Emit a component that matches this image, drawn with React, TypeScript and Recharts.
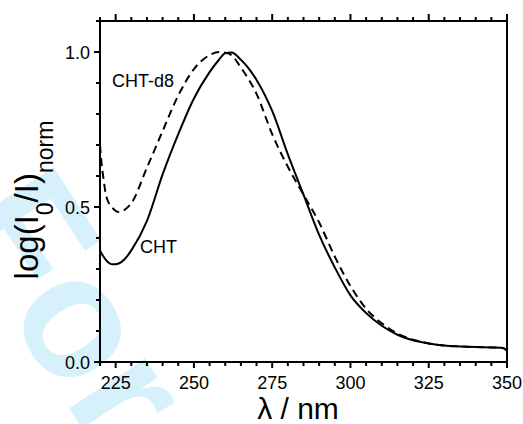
import React from "react";
import { LineChart, Line, XAxis, YAxis } from "recharts";

// wavelength grid (nm) and normalized absorbance
const wavelengths = [220, 220.5, 221, 222, 224, 226, 228, 230, 235, 240, 245, 250, 255, 258, 260, 262, 265, 270, 275, 280, 285, 290, 295, 300, 305, 310, 315, 320, 325, 330, 335, 340, 345, 348, 349, 350];
const chtValues = [0.36, 0.35, 0.342, 0.328, 0.315, 0.318, 0.333, 0.36, 0.455, 0.605, 0.735, 0.85, 0.935, 0.975, 0.996, 0.998, 0.975, 0.91, 0.81, 0.67, 0.54, 0.41, 0.305, 0.215, 0.158, 0.117, 0.088, 0.07, 0.06, 0.053, 0.05, 0.048, 0.047, 0.046, 0.044, 0.036];
const chtD8Values = [0.7, 0.64, 0.6, 0.535, 0.497, 0.484, 0.492, 0.512, 0.627, 0.745, 0.86, 0.945, 0.99, 1.0, 0.998, 0.99, 0.95, 0.865, 0.735, 0.63, 0.54, 0.45, 0.34, 0.245, 0.172, 0.125, 0.092, 0.072, 0.06, 0.053, 0.05, 0.048, 0.047, 0.046, 0.044, 0.036];

const xTicks = [220, 225, 230, 235, 240, 245, 250, 255, 260, 265, 270, 275, 280, 285, 290, 295, 300, 305, 310, 315, 320, 325, 330, 335, 340, 345, 350];
const xMajorTicks = [225, 250, 275, 300, 325, 350];
const yTicks = [0, 0.1, 0.2, 0.3, 0.4, 0.5, 0.6, 0.7, 0.8, 0.9, 1.0, 1.1];
const yMajorTicks = [0, 0.5, 1.0];

const data = wavelengths.map((wl, i) => ({ wl, cht: chtValues[i], chtD8: chtD8Values[i] }));

const FONT = "'Liberation Sans', Arial, sans-serif";

const isMajorY = (v: number) => yMajorTicks.some(m => Math.abs(m - v) < 1e-6);

function BottomTick(props: any) {
  const { x, y, payload } = props;
  const major = xMajorTicks.includes(payload.value);
  return (
    <g>
      <line x1={x} x2={x} y1={y} y2={y + (major ? 6 : 4)} stroke="#000" strokeWidth={2} />
      {major && (
        <text x={x} y={y + 27} textAnchor="middle" fontSize={18} fontFamily={FONT} fill="#000">
          {payload.value}
        </text>
      )}
    </g>
  );
}

function TopTick(props: any) {
  const { x, y, payload } = props;
  const major = xMajorTicks.includes(payload.value);
  return <line x1={x} x2={x} y1={y} y2={y - (major ? 7 : 4)} stroke="#000" strokeWidth={2} />;
}

function LeftTick(props: any) {
  const { x, y, payload } = props;
  const major = isMajorY(payload.value);
  return (
    <g>
      <line x1={x} x2={x - (major ? 6 : 4)} y1={y} y2={y} stroke="#000" strokeWidth={2} />
      {major && (
        <text x={x - 10} y={y + 6.5} textAnchor="end" fontSize={18} fontFamily={FONT} fill="#000">
          {payload.value.toFixed(1)}
        </text>
      )}
    </g>
  );
}

function RightTick(props: any) {
  const { x, y, payload } = props;
  const len = isMajorY(payload.value) ? 7 : 4;
  return <line x1={x - len} x2={x + len} y1={y} y2={y} stroke="#000" strokeWidth={2} />;
}

const axisLine = { stroke: "#000", strokeWidth: 2 };

export default function App() {
  return (
    <div style={{ position: "absolute", left: 0, top: 0, width: 523, height: 424, overflow: "hidden" }}>
      {/* journal watermark behind the plot */}
      <svg width={523} height={424} style={{ position: "absolute", left: 0, top: 0 }}>
        <text
          x={-52}
          y={222}
          transform="rotate(57 -52 222)"
          fontSize={172}
          fontWeight="bold"
          fontFamily={FONT}
          fill="#d6f0fc"
        >
          For
        </text>
      </svg>
      <div style={{ position: "absolute", left: 0, top: 0 }}>
        <LineChart width={523} height={424} data={data} margin={{ top: 1, right: 0, bottom: 0, left: 0 }}>
          <XAxis
            xAxisId="bottom"
            dataKey="wl"
            type="number"
            domain={[220, 350]}
            ticks={xTicks}
            interval={0}
            height={62}
            tickSize={0}
            tickMargin={0}
            tickLine={false}
            axisLine={axisLine}
            tick={<BottomTick />}
          />
          <XAxis
            xAxisId="top"
            orientation="top"
            dataKey="wl"
            type="number"
            domain={[220, 350]}
            ticks={xTicks}
            interval={0}
            height={20}
            tickSize={0}
            tickMargin={0}
            tickLine={false}
            axisLine={axisLine}
            tick={<TopTick />}
          />
          <YAxis
            yAxisId="left"
            type="number"
            domain={[0, 1.1]}
            ticks={yTicks}
            interval={0}
            width={100}
            tickSize={0}
            tickMargin={0}
            tickLine={false}
            axisLine={axisLine}
            tick={<LeftTick />}
          />
          <YAxis
            yAxisId="right"
            orientation="right"
            type="number"
            domain={[0, 1.1]}
            ticks={yTicks}
            interval={0}
            width={16}
            tickSize={0}
            tickMargin={0}
            tickLine={false}
            axisLine={axisLine}
            tick={<RightTick />}
          />
          <Line
            xAxisId="bottom"
            yAxisId="left"
            type="monotone"
            dataKey="chtD8"
            stroke="#000"
            strokeWidth={2}
            strokeDasharray="8 5"
            dot={false}
            isAnimationActive={false}
          />
          <Line
            xAxisId="bottom"
            yAxisId="left"
            type="monotone"
            dataKey="cht"
            stroke="#000"
            strokeWidth={2}
            dot={false}
            isAnimationActive={false}
          />
        </LineChart>
      </div>
      <svg width={523} height={424} style={{ position: "absolute", left: 0, top: 0, pointerEvents: "none" }}>
        <text x={112} y={87} fontSize={18} fontFamily={FONT} fill="#000">CHT-d8</text>
        <text x={140} y={253} fontSize={18} fontFamily={FONT} fill="#000">CHT</text>
        <text x={298} y={418.5} textAnchor="middle" fontSize={30} fontFamily={FONT} fill="#000">λ / nm</text>
        <text
          x={200}
          y={38}
          transform="rotate(-90 38 200) translate(-162 162)"
          textAnchor="middle"
          fontSize={33}
          fontFamily={FONT}
          fill="#000"
        >
          log(I<tspan fontSize={23} dy={15}>0</tspan>
          <tspan fontSize={33} dy={-15}>/I)</tspan>
          <tspan fontSize={23} dy={15}>norm</tspan>
        </text>
      </svg>
    </div>
  );
}
